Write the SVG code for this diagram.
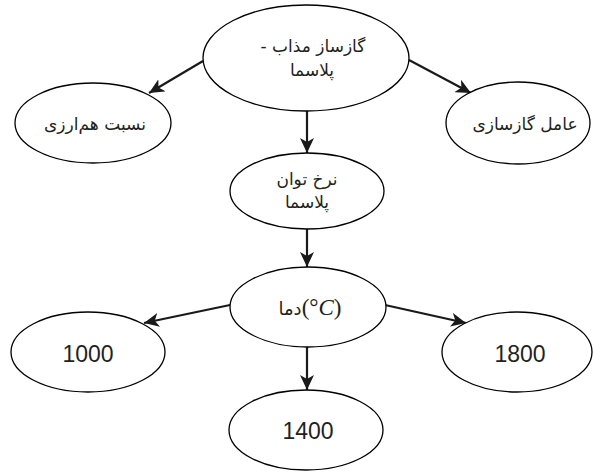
<svg xmlns="http://www.w3.org/2000/svg" width="593" height="472" viewBox="0 0 593 472">
<defs>
<style>
.node ellipse{fill:#fff;stroke:#000;stroke-width:1.3}
.fa{font-family:"DejaVu Sans",sans-serif;font-size:17px;fill:#231f20;text-anchor:middle;direction:rtl}
.num{font-family:"Liberation Sans",Arial,sans-serif;font-size:23px;fill:#231f20;text-anchor:middle}
.conn line{stroke:#1a1a1a;stroke-width:2.2;marker-end:url(#ah)}
</style>
<marker id="ah" markerUnits="userSpaceOnUse" markerWidth="16" markerHeight="14" refX="15" refY="7" orient="auto">
<path d="M0,0 L15,7 L0,14 L4,7 z" fill="#1a1a1a"/>
</marker>
</defs>
<g id="connectors" class="conn">
<line x1="203" y1="61" x2="149" y2="93"/>
<line x1="409" y1="60" x2="471" y2="93"/>
<line x1="307" y1="111" x2="307" y2="153"/>
<line x1="307" y1="229" x2="307" y2="267"/>
<line x1="230" y1="305" x2="144" y2="323"/>
<line x1="385" y1="305" x2="466" y2="323"/>
<line x1="307" y1="347" x2="307" y2="390"/>
</g>
<g id="n-top" class="node">
<ellipse cx="306" cy="58" rx="103" ry="53"/>
<text class="fa" x="313" y="52">گازساز مذاب -</text>
<text class="fa" x="312" y="76">پلاسما</text>
</g>
<g id="n-left" class="node">
<ellipse cx="93" cy="123" rx="78" ry="40"/>
<text class="fa" x="95" y="130">نسبت هم‌ارزی</text>
</g>
<g id="n-right" class="node">
<ellipse cx="518" cy="123" rx="72" ry="41"/>
<text class="fa" x="525" y="130">عامل گازسازی</text>
</g>
<g id="n-rate" class="node">
<ellipse cx="307" cy="191" rx="77" ry="38"/>
<text class="fa" x="307" y="185">نرخ توان</text>
<text class="fa" x="307" y="208">پلاسما</text>
</g>
<g id="n-temp" class="node">
<ellipse cx="308" cy="307" rx="78" ry="40"/>
<text x="310" y="315" direction="ltr" text-anchor="middle" fill="#231f20"><tspan font-family="DejaVu Sans,sans-serif" font-size="18">دما</tspan><tspan font-family="Liberation Serif,serif" font-size="23">(°<tspan font-style="italic">C</tspan>)</tspan></text>
</g>
<g id="n-1000" class="node">
<ellipse cx="88" cy="352" rx="77" ry="40"/>
<text class="num" x="88" y="362">1000</text>
</g>
<g id="n-1800" class="node">
<ellipse cx="517" cy="352" rx="75" ry="40"/>
<text class="num" x="520" y="362">1800</text>
</g>
<g id="n-1400" class="node">
<ellipse cx="306" cy="430" rx="77" ry="40"/>
<text class="num" x="308" y="439">1400</text>
</g>
</svg>
